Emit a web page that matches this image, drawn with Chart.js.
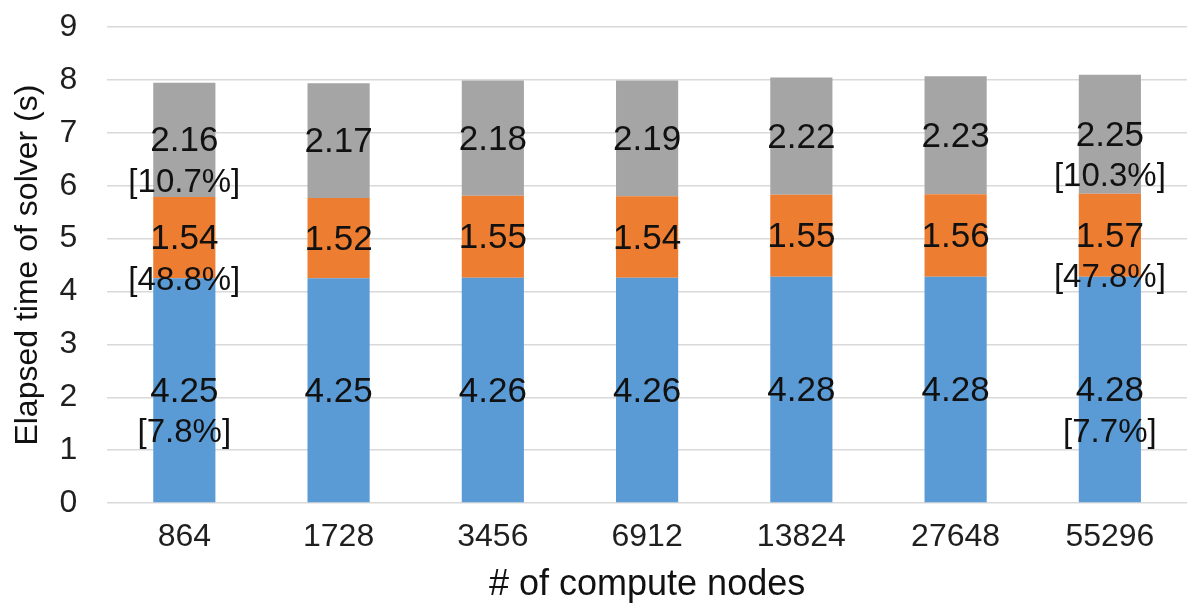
<!DOCTYPE html>
<html>
<head>
<meta charset="utf-8">
<script src="https://cdn.jsdelivr.net/npm/chart.js@4"></script>
<style>
  html, body { margin: 0; padding: 0; background: #fff; }
  #wrap { width: 1187px; height: 603px; }
</style>
</head>
<body>
<div id="wrap"><canvas id="solver-chart"></canvas></div>
<script>
  const nodes = ['864', '1728', '3456', '6912', '13824', '27648', '55296'];
  const partA = [4.25, 4.25, 4.26, 4.26, 4.28, 4.28, 4.28];
  const partB = [1.54, 1.52, 1.55, 1.54, 1.55, 1.56, 1.57];
  const partC = [2.16, 2.17, 2.18, 2.19, 2.22, 2.23, 2.25];
  // percentages shown under the first and last bars only
  const pctA = ['[7.8%]', '', '', '', '', '', '[7.7%]'];
  const pctB = ['[48.8%]', '', '', '', '', '', '[47.8%]'];
  const pctC = ['[10.7%]', '', '', '', '', '', '[10.3%]'];
  const yTicks = [0, 1, 2, 3, 4, 5, 6, 7, 8, 9];

  const fontFamily = '"Liberation Sans", Arial, sans-serif';

  const segmentLabels = {
    id: 'segmentLabels',
    afterDatasetsDraw(chart) {
      const ctx = chart.ctx;
      ctx.save();
      ctx.textAlign = 'center';
      ctx.textBaseline = 'middle';
      ctx.fillStyle = '#111';
      chart.data.datasets.forEach(function(ds, i) {
        const meta = chart.getDatasetMeta(i);
        meta.data.forEach(function(bar, j) {
          const mid = (bar.y + bar.base) / 2;
          ctx.font = '35px ' + fontFamily;
          ctx.fillText(ds.data[j].toFixed(2), bar.x, mid + 2);
          if (ds.pct[j]) {
            ctx.font = '33px ' + fontFamily;
            ctx.fillText(ds.pct[j], bar.x, mid + 43);
          }
        });
      });
      ctx.restore();
    }
  };

  new Chart(document.getElementById('solver-chart'), {
    type: 'bar',
    data: {
      labels: nodes,
      datasets: [
        { data: partA, pct: pctA, backgroundColor: '#5B9BD5' },
        { data: partB, pct: pctB, backgroundColor: '#ED7D31' },
        { data: partC, pct: pctC, backgroundColor: '#A5A5A5' }
      ]
    },
    options: {
      responsive: true,
      maintainAspectRatio: false,
      animation: false,
      datasets: { bar: { barPercentage: 0.403, categoryPercentage: 1 } },
      layout: { padding: { left: 7, right: 0, top: 0, bottom: 0 } },
      plugins: { legend: { display: false }, tooltip: { enabled: false } },
      scales: {
        x: {
          stacked: true,
          grid: { display: false },
          border: { display: false },
          ticks: { color: '#1f1f1f', padding: 10, font: { family: fontFamily, size: 32, lineHeight: 1 } },
          title: {
            display: true,
            text: '# of compute nodes',
            color: '#111',
            padding: { top: 4, bottom: 0 },
            font: { family: fontFamily, size: 36, lineHeight: 1 }
          }
        },
        y: {
          stacked: true,
          min: 0,
          max: 9,
          afterBuildTicks(axis) { axis.ticks = yTicks.map(v => ({ value: v })); },
          // invisible tick marks keep the labels away from the plot
          grid: { color: '#D9D9D9', lineWidth: 1.5, drawTicks: true, tickLength: 22, tickColor: 'rgba(0,0,0,0)' },
          border: { display: false },
          ticks: { color: '#1f1f1f', padding: 8, font: { family: fontFamily, size: 32 } },
          title: {
            display: true,
            text: 'Elapsed time of solver (s)',
            color: '#111',
            padding: { top: 2, bottom: 4 },
            font: { family: fontFamily, size: 32 }
          }
        }
      }
    },
    plugins: [segmentLabels]
  });
</script>
</body>
</html>
